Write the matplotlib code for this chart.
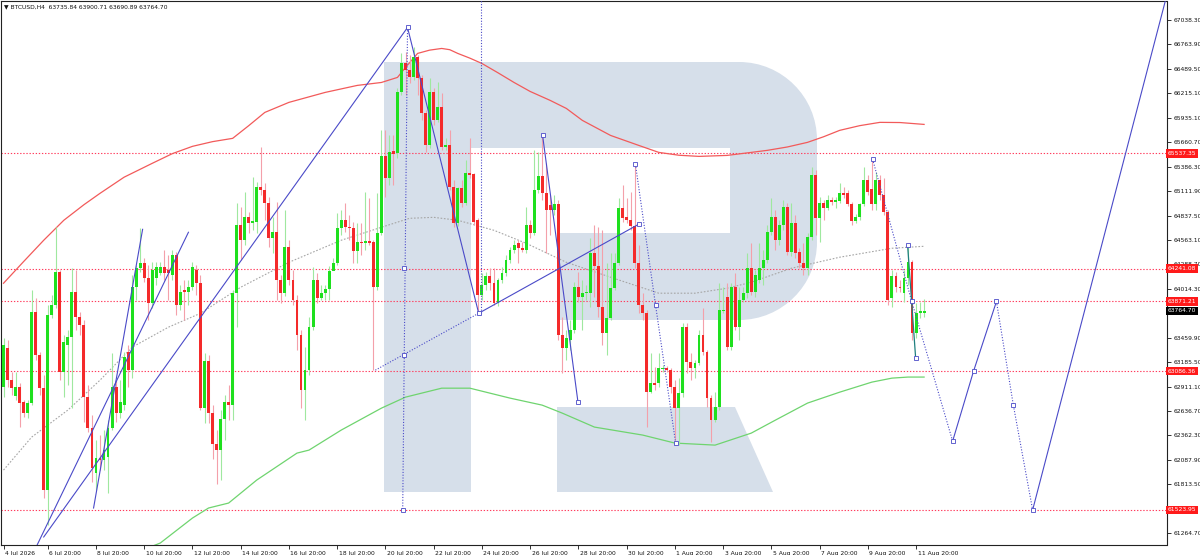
import matplotlib
matplotlib.use('Agg')
import matplotlib.pyplot as plt
import matplotlib.transforms as mtransforms
from matplotlib.path import Path
from matplotlib.patches import PathPatch, Polygon
import numpy as np

# ---------------- data ----------------
symbol_header = "\u25bc BTCUSD,H4  63735.84 63900.71 63690.89 63764.70"

open_ = [62907, 63345, 62985, 62805, 62907, 62738, 62614, 62727, 63750, 63266,
         62895, 61748, 63716, 63829, 64200, 63075, 63379, 63469, 63975, 63694,
         63604, 62794, 62445, 61939, 62108, 62086, 62119, 62445, 62907, 62614,
         62704, 63300, 63098, 64031, 64245, 64301, 64132, 63851, 64132, 64189,
         64256, 64222, 64166, 64391, 63829, 63997, 63975, 64031, 64222, 64076,
         62670, 63199, 62614, 62265, 62198, 62547, 62738, 62704, 63964, 64728,
         64560, 64818, 64751, 64762, 65156, 65122, 64976, 64582, 64650, 64110,
         63964, 64481, 64110, 63885, 63491, 62873, 63098, 63581, 64110, 63907,
         63964, 64009, 64211, 64301, 64695, 64785, 64706, 64695, 64436, 64537,
         64526, 64548, 64537, 64031, 64638, 65504, 65257, 65561, 65538, 66224,
         66550, 66471, 66393, 66618, 66381, 65988, 65628, 66224, 65909, 66055,
         65606, 65628, 65156, 64751, 65144, 64976, 65313, 65301, 64785, 63941,
         64054, 64155, 64076, 63851, 64110, 64189, 64335, 64447, 64526, 64470,
         64447, 64728, 64638, 65122, 65279, 65088, 64953, 64897, 64964, 63491,
         63345, 63435, 63548, 64031, 63919, 63964, 63964, 64414, 64267, 63806,
         63514, 63682, 64020, 64301, 64920, 64818, 64785, 64717, 64301, 63829,
         63738, 62850, 62952, 62952, 63109, 63120, 63098, 62907, 62670, 62839,
         63581, 63188, 63120, 63177, 63491, 63300, 62783, 62535, 62682, 63761,
         63919, 63356, 64031, 63581, 63885, 63964, 64245, 63975, 64110, 64245,
         64335, 64650, 64818, 64560, 64728, 64931, 64425, 64751, 64425, 64301,
         64245, 64594, 65290, 64807, 64976, 64920, 65010, 64987, 64998, 65088,
         65088, 64964, 64773, 64818, 64964, 65234, 65133, 64964, 65234, 65066,
         64875, 63907, 64155, 64031, 63964, 64132, 64312, 63514, 63738, 63735.84]

high = [63458, 63435, 63075, 63075, 62952, 62760, 62760, 63997, 63907, 63300,
        63041, 63829, 63941, 64706, 64222, 63491, 63548, 64245, 64222, 63750,
        63660, 62929, 62592, 62310, 62367, 62423, 62535, 63289, 62985, 62985,
        63300, 63379, 64166, 64279, 64695, 64357, 64279, 64312, 64312, 64312,
        64447, 64391, 64447, 64425, 64054, 64110, 64110, 64312, 64279, 64166,
        63289, 63266, 62704, 62423, 62648, 62817, 62929, 63997, 64976, 64931,
        65100, 64875, 65268, 65212, 65606, 65201, 65043, 64818, 64987, 64166,
        64897, 64560, 64222, 63941, 63548, 63356, 63694, 64256, 64189, 64054,
        64054, 64267, 64357, 64863, 64897, 64976, 64841, 64762, 64751, 64751,
        65100, 65032, 64560, 65088, 65797, 65797, 65740, 65740, 66269, 66663,
        66674, 66640, 66730, 66640, 66415, 66022, 66381, 66269, 66336, 66213,
        65707, 65797, 65234, 65156, 65234, 65459, 65707, 65313, 64807, 64189,
        64200, 64245, 64245, 64132, 64256, 64391, 64481, 64560, 64560, 64537,
        64931, 64785, 65572, 65549, 65740, 65426, 65066, 65066, 65010, 63694,
        63548, 63660, 64087, 64200, 64110, 64054, 64582, 64728, 64706, 64672,
        64301, 64414, 64414, 65032, 65178, 65032, 65100, 65403, 64503, 63964,
        63772, 63289, 63131, 63289, 63154, 63143, 63120, 62985, 63008, 63626,
        63626, 63289, 63210, 63548, 63795, 63323, 62817, 62850, 64076, 64031,
        64076, 64076, 64189, 64031, 64031, 64414, 64526, 64222, 64526, 64447,
        64728, 65032, 64897, 64785, 65010, 64976, 64976, 64841, 64470, 64526,
        64638, 65380, 65347, 65043, 65010, 65066, 65043, 65043, 65201, 65156,
        65122, 64987, 64852, 64976, 65380, 65290, 65471, 65324, 65290, 65257,
        64897, 64222, 64200, 64110, 64222, 64503, 64335, 63851, 63862, 63900.71]

low = [62794, 62907, 62817, 62760, 62457, 62569, 62558, 62704, 63210, 62817,
       61658, 61355, 63682, 63795, 62985, 62794, 62929, 62670, 63548, 63491,
       62513, 62400, 61838, 61748, 61973, 61973, 61714, 62423, 62513, 62558,
       62648, 62907, 63008, 63885, 64200, 64087, 63660, 63795, 64054, 64166,
       64110, 63885, 64110, 63716, 63772, 63660, 63829, 63997, 63941, 62648,
       62502, 62502, 62097, 61816, 61861, 62310, 62535, 62535, 63581, 64335,
       64503, 64638, 64672, 64638, 65066, 64785, 64481, 64414, 63885, 63851,
       63930, 64054, 63829, 63323, 62670, 62535, 63041, 63548, 63851, 63885,
       63885, 63885, 64222, 64279, 64616, 64650, 64560, 64301, 64301, 64391,
       64447, 64503, 63098, 63997, 64616, 65043, 65178, 65178, 65482, 66190,
       66190, 66325, 66359, 66190, 65909, 65549, 65594, 65853, 65887, 65572,
       65572, 65122, 64706, 64717, 64931, 64953, 65257, 64728, 63738, 63885,
       63997, 63997, 63829, 63817, 64076, 64155, 64301, 64414, 64301, 64425,
       64414, 64582, 64616, 65088, 65010, 64414, 64616, 64841, 63435, 63064,
       63210, 63323, 63514, 63862, 63548, 63885, 63806, 63919, 63694, 63379,
       63266, 63660, 63997, 64279, 64762, 64751, 64672, 64245, 63738, 63660,
       62457, 62839, 62873, 62907, 63075, 63075, 62839, 62310, 62254, 62794,
       63064, 62985, 63008, 63154, 63266, 62682, 62288, 62513, 62648, 63738,
       63323, 63323, 63548, 63435, 63862, 63907, 63941, 63919, 64076, 64054,
       64301, 64616, 64447, 64503, 64672, 64391, 64380, 64357, 64245, 64166,
       64166, 64560, 64616, 64537, 64785, 64897, 64953, 64920, 64976, 65032,
       64942, 64728, 64751, 64785, 64942, 65066, 64897, 64897, 65010, 64841,
       63829, 63806, 63975, 63975, 63862, 64054, 63435, 63458, 63682, 63690.89]

close = [63379, 62985, 62895, 62907, 62727, 62614, 62727, 63750, 63266, 62895,
         61748, 63716, 63829, 64200, 63075, 63413, 63469, 63975, 63694, 63604,
         62794, 62445, 61996, 62108, 62086, 62198, 62445, 62907, 62614, 62738,
         63244, 63098, 64031, 64245, 64301, 64132, 63851, 64222, 64256, 64256,
         64189, 64189, 64391, 63829, 63975, 63975, 64031, 64256, 64076, 62670,
         63199, 62614, 62265, 62198, 62547, 62738, 62704, 63964, 64728, 64560,
         64818, 64751, 64773, 65156, 65122, 64976, 64582, 64650, 64110, 63964,
         64481, 64110, 63885, 63491, 62873, 63098, 63581, 64110, 63907, 63964,
         64009, 64211, 64301, 64695, 64785, 64706, 64695, 64436, 64537, 64526,
         64548, 64526, 64031, 64638, 65504, 65257, 65549, 65527, 66224, 66550,
         66471, 66393, 66618, 66381, 65988, 65628, 66224, 65909, 66055, 65606,
         65628, 65156, 64751, 65144, 64976, 65313, 65290, 64762, 63941, 64054,
         64155, 64076, 63851, 64110, 64189, 64335, 64447, 64503, 64470, 64447,
         64728, 64638, 65122, 65279, 65088, 64897, 64897, 64964, 63491, 63345,
         63458, 63548, 64031, 63919, 63964, 63975, 64414, 64267, 63806, 63514,
         63682, 64020, 64301, 64920, 64807, 64785, 64717, 64301, 63829, 63738,
         62850, 62952, 62929, 63120, 63120, 63098, 62907, 62670, 62839, 63581,
         63188, 63120, 63177, 63491, 63300, 62783, 62535, 62682, 63772, 63772,
         63356, 64031, 63581, 63885, 63964, 64245, 63975, 64166, 64245, 64335,
         64650, 64818, 64560, 64728, 64931, 64425, 64751, 64414, 64301, 64245,
         64594, 65290, 64807, 64976, 64920, 65010, 64987, 65010, 65088, 65066,
         64964, 64773, 64818, 64964, 65234, 65100, 64964, 65234, 65066, 64875,
         63885, 64155, 64031, 64020, 64132, 64312, 63514, 63738, 63761, 63764.70]

# moving averages sampled at bar indices
ma_slow_bars = [0, 5, 10, 15, 20, 24, 30, 37, 42, 47, 52, 57, 61, 65, 71, 80, 88, 94,
                98, 100, 103, 106, 109, 111, 113, 116, 119, 123, 127, 131, 136, 140,
                144, 151, 158, 163, 168, 173, 180, 186, 190, 195, 200, 204, 208, 213,
                218, 223, 229]
ma_slow_vals = [64076, 64320, 64560, 64785, 64960, 65088, 65270, 65426, 65535, 65617,
                65670, 65707, 65850, 65999, 66112, 66224, 66303, 66336, 66393, 66505,
                66663, 66700, 66719, 66705, 66663, 66610, 66550, 66445, 66336, 66235,
                66134, 66044, 65909, 65740, 65628, 65549, 65517, 65504, 65515, 65549,
                65572, 65610, 65662, 65725, 65797, 65850, 65887, 65885, 65864]

ma_mid_bars = [0, 7, 16, 24, 32, 41, 49, 59, 71, 84, 94, 101, 107, 113, 122, 130, 140,
               151, 163, 172, 180, 186, 196, 208, 221, 229]
ma_mid_vals = [61973, 62344, 62648, 62985, 63356, 63581, 63738, 64031, 64312, 64560,
               64706, 64807, 64818, 64785, 64672, 64526, 64312, 64144, 63964, 63964,
               64020, 64087, 64245, 64369, 64470, 64492]

ma_long_bars = [35, 39, 47, 51, 56, 63, 73, 76, 84, 94, 100, 109, 116, 126, 134, 139,
                147, 159, 167, 177, 186, 192, 200, 208, 216, 221, 225, 229]
ma_long_vals = [61080, 61152, 61433, 61546, 61602, 61861, 62164, 62198, 62423, 62670,
                62794, 62895, 62895, 62783, 62704, 62614, 62457, 62367, 62277, 62254,
                62389, 62535, 62727, 62850, 62963, 63008, 63020, 63020]

# horizontal levels
level_prices = [65537.35, 64241.08, 63871.21, 63086.36, 61523.95]
level_labels = ["65537.35", "64241.08", "63871.21", "63086.36", "61523.95"]
last_price = 63764.70
last_label = "63764.70"

# right axis ticks (the ones not hidden under the price boxes)
ytick_vals = [67038.30, 66763.90, 66489.50, 66215.10, 65940.70, 65660.70, 65386.30,
              65111.90, 64837.50, 64563.10, 64288.70, 64014.30, 63459.90,
              63185.50, 62911.10, 62636.70, 62362.30, 62087.90, 61813.50, 61264.70]
ytick_labels = ["67038.30", "66763.90", "66489.50", "66215.10", "65935.10", "65660.70",
                "65386.30", "65111.90", "64837.50", "64563.10", "64288.70", "64014.30",
                "63459.90", "63185.50", "62911.10", "62636.70", "62362.30",
                "62087.90", "61813.50", "61264.70"]

# date ticks (bar index, label)
xtick_bars = [0, 11, 23, 35, 47, 59, 71, 83, 95, 107, 119, 131, 143, 155, 167, 179,
              191, 203, 215, 227]
xtick_labels = ["4 Jul 2026", "6 Jul 20:00", "8 Jul 20:00", "10 Jul 20:00", "12 Jul 20:00",
                "14 Jul 20:00", "16 Jul 20:00", "18 Jul 20:00", "20 Jul 20:00",
                "22 Jul 20:00", "24 Jul 20:00", "26 Jul 20:00", "28 Jul 20:00",
                "30 Jul 20:00", "1 Aug 20:00", "3 Aug 20:00", "5 Aug 20:00",
                "7 Aug 20:00", "9 Aug 20:00", "11 Aug 20:00"]

# drawn objects (bar index, price)
solid_lines = [
    ([8, 46], [61096, 64650]),
    ([10, 100.5], [61220, 66955]),
    ([22.4, 34.6], [61546, 64683]),
    ([100.5, 118.2], [66955, 63738]),
    ([118.2, 158], [63738, 64740]),
    ([134.1, 142.9], [65740, 62738]),
    ([236.1, 241.3, 247], [62299, 63086, 63871]),
    ([256, 291], [61524, 67600]),
]
dotted_lines = [
    ([92.5, 118.2], [63098, 63738]),
    ([100.5, 99.3], [66955, 61523]),
    ([118.9, 118.9], [63738, 67600]),
    ([157.2, 162.2, 167.2], [65414, 63829, 62277]),
    ([216.2, 225.9, 236.1], [65471, 63874, 62299]),
    ([247, 251.2, 256], [63871, 62704, 61524]),
]
teal_line = ([224.9, 226.9], [64503, 63233])
marker_bars = [100.5, 99.5, 99.5, 99.3, 118.2, 158, 134.1, 142.9, 157.2, 162.2, 167.2,
               216.2, 225.9, 224.9, 226.9, 236.1, 241.3, 247, 251.2, 256]
marker_vals = [66955, 64245, 63266, 61523, 63738, 64740, 65740, 62738, 65414, 63829,
               62277, 65471, 63874, 64503, 63233, 62299, 63086, 63871, 62704, 61524]

# ---------------- figure ----------------
FW, FH = 1200, 555
fig = plt.figure(figsize=(FW / 100, FH / 100), dpi=100)
fig.patch.set_facecolor('white')
ax = fig.add_axes([0.5 / FW, 10 / FH, 1166 / FW, 544.5 / FH])
ax.set_facecolor('white')
ax.set_xlim(-0.75, 289.3)
ax.set_ylim(61129.7, 67258.7)

FS = 4.3

# watermark logo (figure pixel coords)
def fp(x, y):
    return (x / FW, 1 - y / FH)

k = 0.5523 * 78
verts = [fp(384, 62), fp(739, 62), fp(739 + k, 62), fp(817, 140 - k), fp(817, 140),
         fp(817, 242), fp(817, 242 + k), fp(739 + k, 320), fp(739, 320),
         fp(557, 320), fp(557, 233), fp(730, 233), fp(730, 148), fp(471, 148),
         fp(471, 492), fp(384, 492), fp(384, 62)]
codes = [Path.MOVETO, Path.LINETO, Path.CURVE4, Path.CURVE4, Path.CURVE4,
         Path.LINETO, Path.CURVE4, Path.CURVE4, Path.CURVE4,
         Path.LINETO, Path.LINETO, Path.LINETO, Path.LINETO, Path.LINETO,
         Path.LINETO, Path.LINETO, Path.CLOSEPOLY]
logo_col = '#d6dfea'
ax.add_patch(PathPatch(Path(verts, codes), transform=fig.transFigure,
                       facecolor=logo_col, edgecolor='none', zorder=0.5))
ax.add_patch(Polygon([fp(557, 407), fp(735, 407), fp(773, 492), fp(557, 492)],
                     closed=True, transform=fig.transFigure,
                     facecolor=logo_col, edgecolor='none', zorder=0.5))

# levels
for v in level_prices:
    ax.axhline(v, color='#ff3b5c', lw=0.8, ls=(0, (1.2, 1.6)), zorder=1.5)

# moving averages
ax.plot(ma_slow_bars, ma_slow_vals, color='#f25a5a', lw=0.9, zorder=2)
ax.plot(ma_long_bars, ma_long_vals, color='#6fd46f', lw=0.9, zorder=2)
ax.plot(ma_mid_bars, ma_mid_vals, color='#a6a6a6', lw=0.8, ls=(0, (1.5, 1.5)), zorder=2)

# candles
o = np.array(open_, float); h = np.array(high, float)
l = np.array(low, float); c = np.array(close, float)
x = np.arange(len(c))
up = c >= o
ax.vlines(x[up], l[up], h[up], color='#9fe89f', lw=0.8, zorder=3)
ax.vlines(x[~up], l[~up], h[~up], color='#f4a0aa', lw=0.8, zorder=3)
bottom = np.minimum(o, c)
height = np.maximum(np.abs(c - o), 9)
ax.bar(x[up], height[up], bottom=bottom[up], width=0.72, color='#1ee01e', lw=0, zorder=4)
ax.bar(x[~up], height[~up], bottom=bottom[~up], width=0.72, color='#f42a2a', lw=0, zorder=4)

# drawn objects
blue = '#4a4ac8'
for bx, by in solid_lines:
    ax.plot(bx, by, color=blue, lw=0.8, zorder=5)
for bx, by in dotted_lines:
    ax.plot(bx, by, color=blue, lw=0.8, ls=(0, (1, 1.5)), zorder=5)
ax.plot(teal_line[0], teal_line[1], color='#1f7f7f', lw=0.9, zorder=5)
ax.plot(marker_bars, marker_vals, ls='none', marker='s', ms=2.4, mfc='white',
        mec=blue, mew=0.6, zorder=6)

# axes styling
for s in ax.spines.values():
    s.set_color('#222222')
    s.set_linewidth(0.8)
ax.yaxis.tick_right()
ax.set_yticks(ytick_vals)
ax.set_yticklabels(ytick_labels)
ax.set_xticks(xtick_bars)
ax.set_xticklabels(xtick_labels)
ax.tick_params(axis='y', direction='out', length=3, width=0.6, pad=2,
               labelsize=FS, colors='#111111')
ax.tick_params(axis='x', direction='out', length=3, width=0.6, pad=1,
               labelsize=FS, colors='#111111')
off = mtransforms.ScaledTranslation(1.5 / 100, 0, fig.dpi_scale_trans)
for lbl in ax.get_xticklabels():
    lbl.set_ha('left')
    lbl.set_transform(lbl.get_transform() + off)

# price boxes on the right scale
btr = mtransforms.blended_transform_factory(ax.transAxes, ax.transData)
for v, t in zip(level_prices, level_labels):
    ax.text(1.0012, v, t, transform=btr, fontsize=FS, color='white', va='center',
            ha='left', clip_on=False, zorder=20,
            bbox=dict(boxstyle='square,pad=0.3', fc='#ff1a1a', ec='none'))
ax.text(1.0012, last_price, last_label, transform=btr, fontsize=FS, color='white',
        va='center', ha='left', clip_on=False, zorder=21,
        bbox=dict(boxstyle='square,pad=0.3', fc='#000000', ec='none'))

# header
fig.text(4 / FW, 1 - 7 / FH, symbol_header, fontsize=FS, va='center', ha='left',
         color='#111111')

fig.savefig('out.png', dpi=100, facecolor='white')
